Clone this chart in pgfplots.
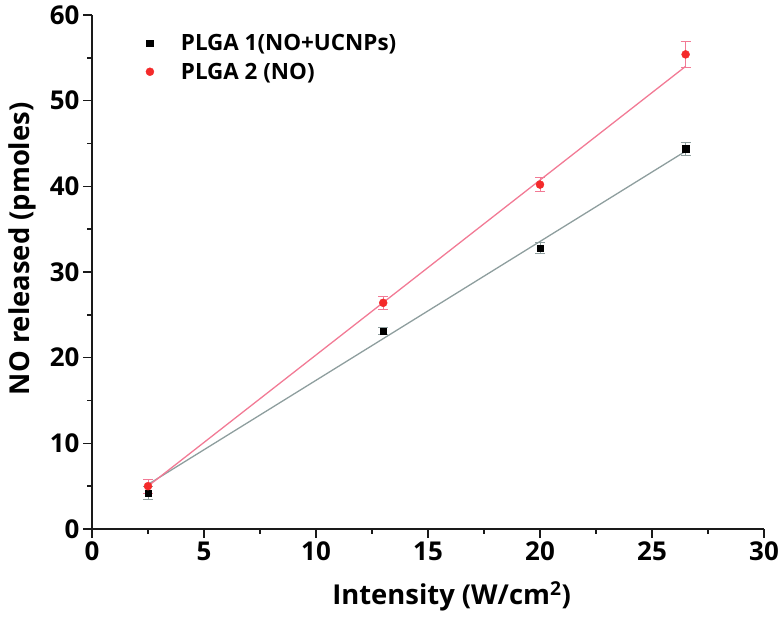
\documentclass[border=0pt]{standalone}
\usepackage{pgfplots}
\pgfplotsset{compat=1.18}
\usepackage{fontspec}
\setmainfont{Open Sans}
\definecolor{ptred}{HTML}{F42A2A}
\definecolor{pinkline}{HTML}{F27A95}
\definecolor{grayline}{HTML}{8E9E9E}
\definecolor{axisgray}{HTML}{1A1A1A}
\begin{document}
\begin{tikzpicture}[x=1bp,y=1bp]
\path[use as bounding box] (0,0) rectangle (784,622);
\begin{axis}[
  at={(92bp,93bp)}, anchor=south west,
  scale only axis, width=672bp, height=514bp,
  xmin=0, xmax=30, ymin=0, ymax=60,
  axis x line=bottom, axis y line=left,
  axis line style={-, line width=2pt, axisgray},
  xtick={0,5,...,30}, ytick={0,10,...,60},
  minor xtick={2.5,7.5,...,27.5}, minor ytick={5,15,...,55},
  tick align=outside,
  major tick length=9bp, minor tick length=5bp,
  every tick/.style={line width=1.5pt, axisgray},
  tick label style={font=\fontsize{26}{30}\selectfont\bfseries},
  /pgf/number format/assume math mode=true,
  xlabel={Intensity (W/cm\textsuperscript{2})},
  ylabel={NO released (pmoles)},
  label style={font=\fontsize{27.5}{32}\selectfont\bfseries},
  xlabel style={at={(ticklabel cs:0.535)}, yshift=-14bp},
  ylabel style={at={(ticklabel cs:0.545)}, yshift=7bp},
  legend style={draw=none, fill=none, at={(0.074,0.967)}, anchor=north west,
    font=\fontsize{22.5}{26}\selectfont\bfseries, row sep=7bp,
    legend cell align=left, inner sep=0pt},
  legend image code/.code={\draw[mark repeat=2, mark phase=2, #1, only marks] plot coordinates {(0bp,0bp) (8bp,0bp) (16bp,0bp)}; \path[draw=none, fill=none] (0bp,0bp) (37bp,0bp);},
  clip=false,
]
% fit lines
\addplot[grayline, line width=1.3pt, forget plot] coordinates {(2.5,5.2) (26.5,44.1)};
\addplot[pinkline, line width=1.3pt, forget plot] coordinates {(2.5,5.0) (26.5,54.0)};
% data
\addplot[only marks, mark=square*, mark size=3.3bp, black,
  error bars/.cd, y dir=both, y explicit,
  error bar style={grayline, line width=1pt}, error mark options={rotate=90, mark size=5bp, grayline, line width=1pt}]
  coordinates {
  (2.5,4.2) +- (0,0.8)
  (13,23.1) +- (0,0.4)
  (20,32.8) +- (0,0.6)
  (26.5,44.4) +- (0,0.75)
  };
\addlegendentry{PLGA 1(NO+UCNPs)}
\addplot[only marks, mark=*, mark size=4bp, ptred,
  error bars/.cd, y dir=both, y explicit,
  error bar style={pinkline, line width=1pt}, error mark options={rotate=90, mark size=5bp, pinkline, line width=1pt}]
  coordinates {
  (2.5,5.0) +- (0,0.8)
  (13,26.4) +- (0,0.75)
  (20,40.2) +- (0,0.85)
  (26.5,55.4) +- (0,1.5)
  };
\addlegendentry{PLGA 2 (NO)}
\end{axis}
\end{tikzpicture}
\end{document}
